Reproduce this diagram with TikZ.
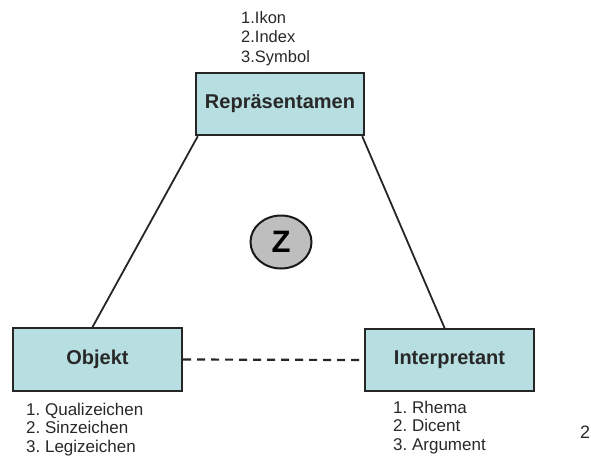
\documentclass[tikz,border=0pt]{standalone}
\usepackage{fontspec}
\setmainfont{Liberation Sans}
\usetikzlibrary{shapes.geometric}
\definecolor{boxfill}{RGB}{183,222,224}
\definecolor{circfill}{RGB}{190,190,190}
\definecolor{txt}{RGB}{40,40,40}
\frenchspacing
\begin{document}
\begin{tikzpicture}[x=1pt,y=-1pt,
  box/.style={draw=black!85,line width=2.4pt,fill=boxfill,inner sep=0pt,font=\bfseries\fontsize{20}{22}\selectfont,text=txt},
  lst/.style={anchor=base west,align=left,inner sep=0pt,text=txt},
  con/.style={line width=1.8pt,draw=black!85}]
\useasboundingbox (0,0) rectangle (591,459);
\node[box,minimum width=168pt,minimum height=62pt] (R) at (280,104) {Repräsentamen};
\node[box,minimum width=169pt,minimum height=63pt] (O) at (97.5,359.5) {Objekt};
\node[box,minimum width=169pt,minimum height=62pt] (I) at (449.5,360) {Interpretant};
\node[draw=black!90,line width=2pt,fill=circfill,ellipse,minimum width=61pt,minimum height=53pt,inner sep=0pt,font=\bfseries\fontsize{31}{31}\selectfont] (Z) at (281,242) {Z};
\node[lst,font=\fontsize{16.5}{19.5}\selectfont] (tl) at (241,62) {1.Ikon\\2.Index\\3.Symbol};
\node[lst,font=\fontsize{17}{18.5}\selectfont] (ol) at (26,452) {1. Qualizeichen\\2. Sinzeichen\\3. Legizeichen};
\node[lst,font=\fontsize{17}{18.5}\selectfont] (il) at (393,450) {1. Rhema\\2. Dicent\\3. Argument};
\node[inner sep=0pt,anchor=base,font=\fontsize{18}{18}\selectfont,text=txt] (pg) at (585,438) {2};
\coordinate (a1) at ([xshift=3pt]R.south west);
\coordinate (a2) at ([xshift=-3pt]R.south east);
\coordinate (b1) at (92,328);
\coordinate (b2) at (445,329);
\draw[con] (a1) -- (b1);
\draw[con] (a2) -- (b2);
\draw[con,line width=2.2pt,dash pattern=on 8pt off 6pt] (O.east) -- (I.west);
\end{tikzpicture}
\end{document}
